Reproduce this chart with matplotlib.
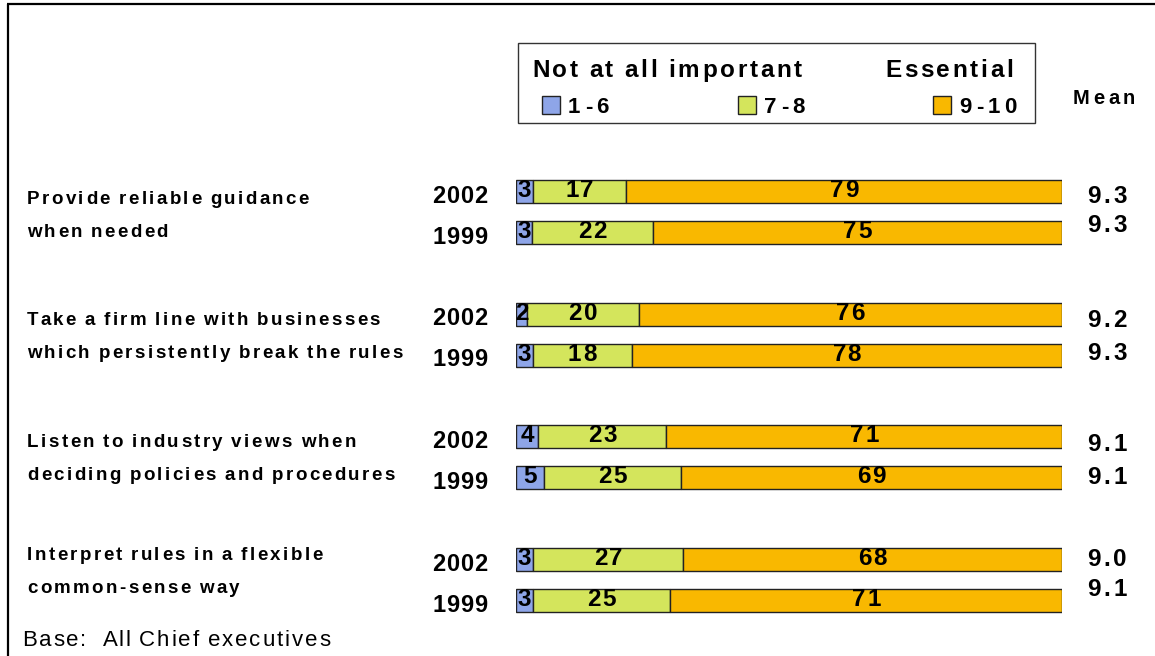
import numpy as np
import matplotlib
matplotlib.use("Agg")
import matplotlib.pyplot as plt
from matplotlib.patches import Rectangle
from matplotlib.font_manager import FontProperties

# Survey results: share of chief executives rating each item (percent)
statements = [
    ("Provide reliable guidance", "when needed"),
    ("Take a firm line with businesses", "which persistently break the rules"),
    ("Listen to industry views when", "deciding policies and procedures"),
    ("Interpret rules in a flexible", "common-sense way"),
]
years = ["2002", "1999"]
band_labels = ["1-6", "7-8", "9-10"]

low_2002 = [3, 2, 4, 3]
mid_2002 = [17, 20, 23, 27]
high_2002 = [79, 76, 71, 68]
low_1999 = [3, 3, 5, 3]
mid_1999 = [22, 18, 25, 25]
high_1999 = [75, 78, 69, 71]

mean_2002 = [9.3, 9.2, 9.1, 9.0]
mean_1999 = [9.3, 9.3, 9.1, 9.1]

colors = ["#8EA5E8", "#D4E55C", "#F9B800"]
FONT = "Liberation Sans"

W, H = 1155, 656
fig = plt.figure(figsize=(W / 100, H / 100), dpi=100)
renderer = fig.canvas.get_renderer()

# background axes in pixel coordinates for text and frame
bg = fig.add_axes([0, 0, 1, 1])
bg.set_xlim(0, W)
bg.set_ylim(H, 0)
bg.axis("off")


def text_width(s, prop):
    # width of a string including trailing spaces, using a sentinel glyph
    w1, _, _ = renderer.get_text_width_height_descent(s + "|", prop, ismath=False)
    w2, _, _ = renderer.get_text_width_height_descent("|", prop, ismath=False)
    return w1 - w2


def spaced_text(ax, x, yc, s, size, track=0.0, weight="bold", ha="left", scale=1.0):
    """Draw text with extra letter spacing; yc is the vertical centre of capitals."""
    prop = FontProperties(family=FONT, weight=weight, size=size)
    px = size * 100 / 72
    base = yc + 0.716 * px / 2
    extra = [0.0]
    for ch in s[:-1]:
        extra.append(extra[-1] + (0.5 * track if ch == " " else track))
    total = (text_width(s, prop) + extra[-1]) * scale
    if ha == "center":
        x0 = x - total / 2
    elif ha == "right":
        x0 = x - total
    else:
        x0 = x
    for i, ch in enumerate(s):
        if ch == " ":
            continue
        off = (text_width(s[:i], prop) + extra[i]) * scale
        ax.text(x0 + off, base, ch, ha="left", va="baseline", fontproperties=prop,
                color="black")


# bar axes: x in percent, y in pixel rows
bx0, bx1 = 516, 1062
ax = fig.add_axes([bx0 / W, 0, (bx1 - bx0) / W, 1])
ax.set_xlim(0, 100)
ax.set_ylim(H, 0)
ax.axis("off")
pct_per_px = 100.0 / (bx1 - bx0)

group_top = np.array([191.5, 314.0, 436.5, 559.5])
row_gap = 41.0
bar_h = 23

rows = []
for g in range(4):
    rows.append((group_top[g], [low_2002[g], mid_2002[g], high_2002[g]], mean_2002[g], years[0]))
    rows.append((group_top[g] + row_gap, [low_1999[g], mid_1999[g], high_1999[g]], mean_1999[g], years[1]))

mean_offsets = [3, -9, 4, -4, 6, -2, -2, -13]

for i, (yc, vals, mean, yr) in enumerate(rows):
    vals = np.array(vals, dtype=float)
    shares = vals / vals.sum() * 100
    left = 0.0
    for k in range(3):
        ax.barh(yc, shares[k], left=left, height=bar_h, color=colors[k],
                edgecolor="#222222", linewidth=1.0)
        spaced_text(ax, left + shares[k] / 2, yc - 3, f"{int(vals[k])}", 17.5, track=1.5,
                    ha="center", scale=pct_per_px)
        left += shares[k]
    spaced_text(bg, 487, yc + 3, yr, 17, track=0.7, ha="right")
    spaced_text(bg, 1087, yc + mean_offsets[i], f"{mean:.1f}", 17.5, track=3.0)

label_centres = [213.5, 335.0, 456.5, 570.0]
for g, (l1, l2) in enumerate(statements):
    c = label_centres[g]
    spaced_text(bg, 27, c - 16.5, l1, 13.5, track=2.4)
    spaced_text(bg, 27, c + 16.5, l2, 13.5, track=2.4)

# legend box
bg.add_patch(Rectangle((518, 43), 517, 80, facecolor="white", edgecolor="#333333",
                       linewidth=1.0))
spaced_text(bg, 532, 68.5, "Not at all important", 17.5, track=2.8)
spaced_text(bg, 1013, 68.5, "Essential", 17.5, track=2.6, ha="right")
legend_x = [542, 738, 933]
for k in range(3):
    bg.add_patch(Rectangle((legend_x[k], 96), 18, 18, facecolor=colors[k],
                           edgecolor="#222222", linewidth=1.0))
    spaced_text(bg, legend_x[k] + 26, 105, band_labels[k], 16, track=4.3)

spaced_text(bg, 1073, 97, "Mean", 14.5, track=3.5)

spaced_text(bg, 22, 638, "Base:  All Chief executives", 16, track=1.9, weight="normal")

# frame lines at top and left
bg.plot([7, W], [4, 4], color="black", linewidth=1.6, solid_capstyle="butt")
bg.plot([7.5, 7.5], [4, H], color="black", linewidth=1.6, solid_capstyle="butt")

fig.savefig("out.png", dpi=100)
